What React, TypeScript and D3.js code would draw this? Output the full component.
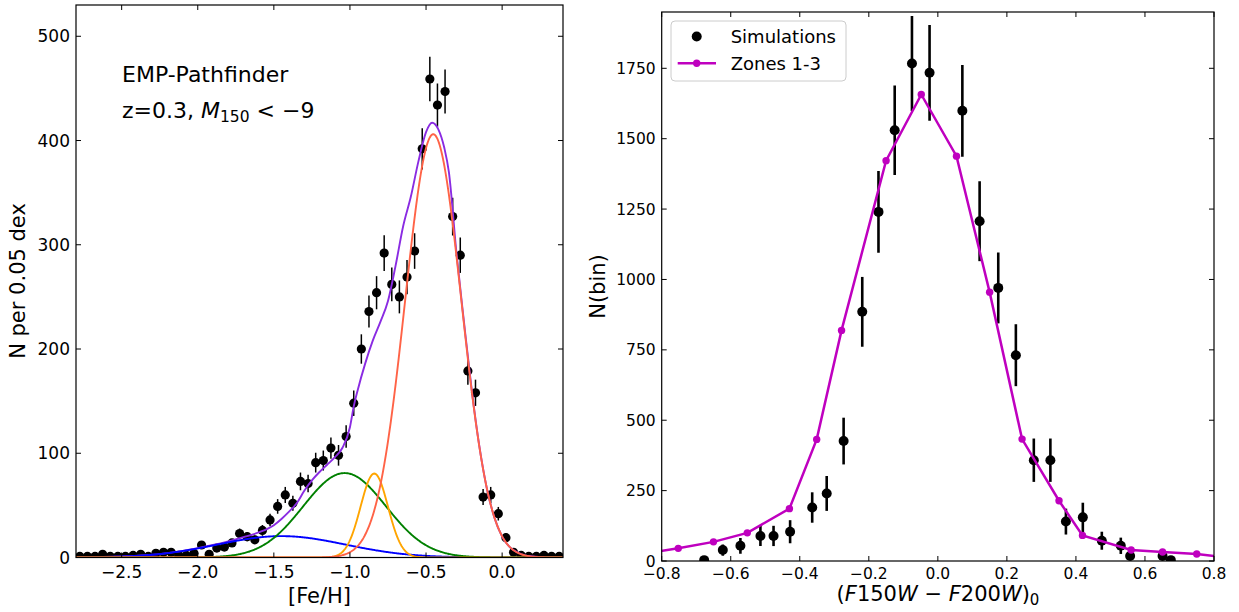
import * as d3 from 'd3';

// ---- left panel: [Fe/H] histogram (0.05 dex bins) ----
const feBinStart = -2.775;
const feBinStep = 0.05;
const feCounts = [1, 1, 1, 3, 1, 1, 1, 2, 3, 1, 4, 5, 5, 2, 2, 4, 12, 3, 9, 10,
  14, 23, 20, 17, 26, 36, 49, 60, 52, 73, 71, 91, 93, 105, 98, 116, 148, 200, 236, 254,
  292, 262, 250, 269, 294, 392, 459, 434, 447, 327, 290, 179, 158, 58, 60, 42, 19, 5, 2, 1,
  1, 2, 1, 1];
const feErrs = [1, 1, 1, 1.7, 1, 1, 1, 1.4, 1.7, 1, 2, 2.2, 2.2, 1.4, 1.4, 2, 3.5, 1.7, 3, 3.2,
  3.7, 4.8, 4.5, 4.1, 5.1, 6, 7, 7.7, 7.2, 8.5, 8.4, 9.5, 9.6, 10.2, 9.9, 10.8, 12.2, 14.1, 15.4, 15.9,
  17.1, 16.2, 15.8, 16.4, 17.1, 19.8, 21.4, 20.8, 21.1, 18.1, 17, 13.4, 12.6, 7.6, 7.7, 6.5, 4.4, 2.2, 1.4, 1,
  1, 1.4, 1, 1];

// gaussian components of the fit
const compColor = ['blue', 'green', 'orange', 'tomato'];
const compAmp = [20.5, 81, 80.5, 406];
const compMu = [-1.45, -1.035, -0.84, -0.4525];
const compSig = [0.42, 0.272, 0.09, 0.185];

// total model curve (purple)
const totX = [-2.8, -2.5, -2.2, -2.0, -1.9, -1.8, -1.7, -1.6, -1.5, -1.45, -1.4, -1.35, -1.3, -1.25,
  -1.2, -1.15, -1.1, -1.05, -1.0, -0.975, -0.95, -0.9, -0.85, -0.8, -0.75, -0.7, -0.65, -0.6, -0.55,
  -0.5, -0.46, -0.42, -0.38, -0.35, -0.3, -0.25, -0.2, -0.15, -0.1, -0.05, 0.0, 0.05, 0.1, 0.15, 0.2, 0.3, 0.4];
const totN = [0.1, 0.9, 4.2, 9, 12, 15.5, 19.5, 24, 31, 37, 44, 52, 64, 74,
  82, 89, 96, 105, 125, 145, 160, 186, 208, 226, 246, 280, 318, 346, 380,
  408, 417, 411, 393, 370, 292, 225, 161, 107, 66, 38, 20, 10, 5, 2, 1, 0.2, 0];

const feXTicks = [-2.5, -2.0, -1.5, -1.0, -0.5, 0.0];
const feYTicks = [0, 100, 200, 300, 400, 500];

// ---- right panel: colour distribution ----
const simX = [-0.677, -0.623, -0.572, -0.514, -0.476, -0.428, -0.364, -0.322, -0.273, -0.219, -0.172,
  -0.125, -0.075, -0.024, 0.071, 0.121, 0.175, 0.226, 0.278, 0.326, 0.371, 0.420, 0.475, 0.530,
  0.557, 0.651, 0.675];
const simN = [3, 39, 54, 89, 89, 104, 190, 240, 426, 885, 1240, 1530, 1767, 1734, 1599, 1207, 970,
  731, 358, 358, 140, 155, 72, 54, 18, 18, 3];
const simErr = [8, 20, 28, 36, 36, 41, 54, 62, 83, 124, 145, 159, 169, 170, 163, 142, 126, 110, 77,
  77, 46, 52, 32, 29, 15, 15, 8];

const zoneX = [-0.85, -0.752, -0.65, -0.552, -0.43, -0.351, -0.279, -0.15, -0.048, 0.054, 0.15,
  0.244, 0.351, 0.419, 0.56, 0.651, 0.75, 0.85];
const zoneN = [27, 45, 68, 100, 186, 432, 819, 1422, 1657, 1438, 955, 433, 214, 91, 39, 32, 25, 11];

const colXTicks = [-0.8, -0.6, -0.4, -0.2, 0.0, 0.2, 0.4, 0.6, 0.8];
const colYTicks = [0, 250, 500, 750, 1000, 1250, 1500, 1750];

const FONT = 'DejaVu Sans, sans-serif';
const MAGENTA = '#bf00bf';

const xL = d3.scaleLinear().domain([-2.8, 0.4]).range([76, 563]);
const yL = d3.scaleLinear().domain([0, 530]).range([557.5, 5]);
const xR = d3.scaleLinear().domain([-0.8, 0.8]).range([661.7, 1214]);
const yR = d3.scaleLinear().domain([0, 1950]).range([561, 12]);

const f1 = d3.format('.1f');
const f0 = d3.format('d');

const Frame = ({ xs, ys, xTicks, yTicks, xFmt, fs, xLabY }) => {
  const [x0, x1] = xs.range();
  const [y0, y1] = ys.range();
  return (
    <g fontFamily={FONT} fontSize={fs} fill="#000">
      {xTicks.map(t => (
        <g key={'x' + t}>
          <line x1={xs(t)} x2={xs(t)} y1={y0} y2={y0 - 5} stroke="#000" />
          <line x1={xs(t)} x2={xs(t)} y1={y1} y2={y1 + 5} stroke="#000" />
          <text x={xs(t)} y={y0 + xLabY} textAnchor="middle">{xFmt(t)}</text>
        </g>
      ))}
      {yTicks.map(t => (
        <g key={'y' + t}>
          <line x1={x0} x2={x0 + 5} y1={ys(t)} y2={ys(t)} stroke="#000" />
          <line x1={x1} x2={x1 - 5} y1={ys(t)} y2={ys(t)} stroke="#000" />
          <text x={x0 - 6} y={ys(t)} dy="0.36em" textAnchor="end">{f0(t)}</text>
        </g>
      ))}
      <rect x={x0} y={y1} width={x1 - x0} height={y0 - y1} fill="none" stroke="#000" strokeWidth={1.2} />
    </g>
  );
};

export default function App() {
  const grid = d3.range(-2.8, 0.4001, 0.005);
  const gauss = (i, x) => compAmp[i] * Math.exp(-((x - compMu[i]) ** 2) / (2 * compSig[i] ** 2));
  const compLine = d3.line().x(d => xL(d[0])).y(d => yL(d[1]));
  const totLine = d3.line().x(d => xL(d[0])).y(d => yL(d[1])).curve(d3.curveMonotoneX);
  const zoneLine = d3.line().x(d => xR(d[0])).y(d => yR(d[1]));

  const feX = feCounts.map((_, i) => feBinStart + feBinStep * i);

  return (
    <div style={{ position: 'absolute', left: 0, top: 0 }}>
      <svg width={1239} height={612} style={{ display: 'block', background: '#fff' }}>
        <defs>
          <clipPath id="clipL"><rect x={76} y={5} width={487} height={552.5} /></clipPath>
          <clipPath id="clipR"><rect x={661.7} y={12} width={552.3} height={549} /></clipPath>
        </defs>

        {/* left panel */}
        <g clipPath="url(#clipL)">
          {feX.map((x, i) => (
            <line key={'e' + i} x1={xL(x)} x2={xL(x)} y1={yL(feCounts[i] - feErrs[i])}
              y2={yL(feCounts[i] + feErrs[i])} stroke="#000" strokeWidth={1.5} />
          ))}
          {feX.map((x, i) => (
            <circle key={'p' + i} cx={xL(x)} cy={yL(feCounts[i])} r={4.6} fill="#000" />
          ))}
          <path d={totLine(totX.map((x, i) => [x, totN[i]]))} fill="none" stroke="#8a2be2" strokeWidth={1.9} />
          {compColor.map((c, i) => (
            <path key={c} d={compLine(grid.map(x => [x, gauss(i, x)]))} fill="none" stroke={c} strokeWidth={1.9} />
          ))}
        </g>
        <Frame xs={xL} ys={yL} xTicks={feXTicks} yTicks={feYTicks} xFmt={f1} fs={17} xLabY={20} />
        <g fontFamily={FONT} fontSize={22}>
          <text x={122} y={82}>EMP-Pathfinder</text>
          <text x={122} y={118}>z=0.3, <tspan fontStyle="italic">M</tspan>
            <tspan fontSize={15.5} dy={4}>150</tspan><tspan dy={-4}> &lt; −9</tspan></text>
        </g>
        <text x={319.5} y={603} textAnchor="middle" fontFamily={FONT} fontSize={21}>[Fe/H]</text>
        <text transform="translate(24.5,281) rotate(-90)" textAnchor="middle" fontFamily={FONT} fontSize={21}>N per 0.05 dex</text>

        {/* right panel */}
        <g clipPath="url(#clipR)">
          {simX.map((x, i) => (
            <line key={'se' + i} x1={xR(x)} x2={xR(x)} y1={yR(Math.max(0, simN[i] - simErr[i]))}
              y2={yR(simN[i] + simErr[i])} stroke="#000" strokeWidth={2.6} />
          ))}
          {simX.map((x, i) => (
            <circle key={'sp' + i} cx={xR(x)} cy={yR(simN[i])} r={5} fill="#000" />
          ))}
          <path d={zoneLine(zoneX.map((x, i) => [x, zoneN[i]]))} fill="none" stroke={MAGENTA} strokeWidth={2.5} />
          {zoneX.map((x, i) => (
            <circle key={'z' + i} cx={xR(x)} cy={yR(zoneN[i])} r={3.7} fill={MAGENTA} />
          ))}
        </g>
        <Frame xs={xR} ys={yR} xTicks={colXTicks} yTicks={colYTicks} xFmt={f1} fs={15.5} xLabY={17.5} />
        <text x={938} y={601} textAnchor="middle" fontFamily={FONT} fontSize={21}>
          (<tspan fontStyle="italic">F</tspan>150<tspan fontStyle="italic">W</tspan> − <tspan fontStyle="italic">F</tspan>200<tspan fontStyle="italic">W</tspan>)<tspan fontSize={15} dy={4}>0</tspan>
        </text>
        <text transform="translate(604.5,286.5) rotate(-90)" textAnchor="middle" fontFamily={FONT} fontSize={21}>N(bin)</text>

        {/* legend */}
        <g fontFamily={FONT} fontSize={18}>
          <rect x={671} y={21} width={175} height={60} rx={4} fill="#fff" fillOpacity={0.8} stroke="#ccc" />
          <circle cx={696.7} cy={36.5} r={5} fill="#000" />
          <text x={730.7} y={43.3}>Simulations</text>
          <line x1={677.7} x2={716} y1={63.3} y2={63.3} stroke={MAGENTA} strokeWidth={2.5} />
          <circle cx={696.7} cy={63.3} r={3.7} fill={MAGENTA} />
          <text x={730.7} y={70.3}>Zones 1-3</text>
        </g>
      </svg>
    </div>
  );
}
